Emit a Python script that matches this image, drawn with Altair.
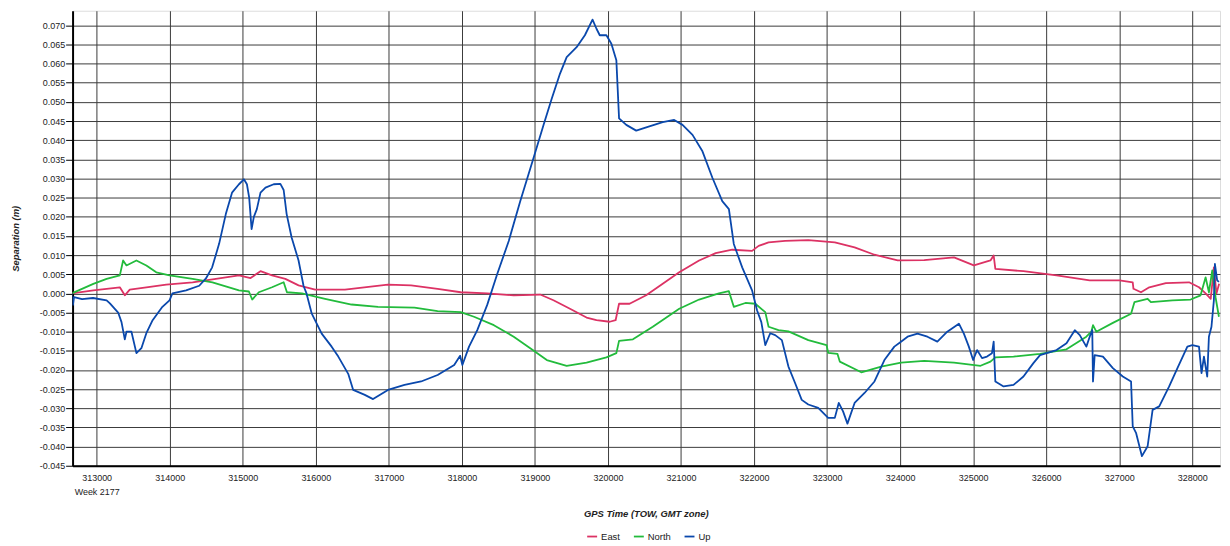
import altair as alt
import pandas as pd

up_t = [312660, 312675, 312690, 312800, 312950, 313136, 313181, 313294, 313340, 313385,
        313408, 313476, 313544, 313612, 313680, 313766, 313900, 313997, 314037, 314224,
        314404, 314496, 314581, 314677, 314768, 314853, 314948, 315016, 315057, 315088,
        315121, 315152, 315193, 315243, 315311, 315424, 315515, 315560, 315601, 315669,
        315764, 315832, 315873, 315945, 316081, 316217, 316308, 316444, 316512, 316671,
        316784, 316988, 317215, 317441, 317668, 317895, 317976, 318007, 318098, 318211,
        318347, 318483, 318642, 318800, 318982, 319118, 319231, 319344, 319435, 319571,
        319684, 319789, 319843, 319888, 319979, 320047, 320115, 320152, 320251, 320387,
        320567, 320750, 320907, 321021, 321158, 321294, 321430, 321565, 321656, 321723,
        321838, 321973, 322041, 322100, 322154, 322222, 322290, 322381, 322471, 322562,
        322653, 322743, 322879, 323015, 323106, 323160, 323219, 323279, 323377, 323513,
        323649, 323785, 323921, 324012, 324102, 324238, 324374, 324510, 324646, 324805,
        324873, 324941, 325000, 325054, 325122, 325190, 325258, 325281, 325304, 325417,
        325553, 325689, 325825, 325916, 326006, 326142, 326278, 326392, 326460, 326550,
        326596, 326631, 326641, 326664, 326777, 326913, 327049, 327162, 327185, 327230,
        327311, 327389, 327457, 327548, 327684, 327797, 327933, 328001, 328092, 328127,
        328160, 328205, 328228, 328263, 328296, 328310, 328341, 328365]
up_v = [0.000, -0.003, -0.001, -0.0015, -0.0012, -0.0018, -0.0026, -0.005, -0.0075, -0.012,
        -0.010, -0.010, -0.0156, -0.0143, -0.0104, -0.007, -0.0035, -0.0018, 0.000, 0.0008,
        0.002, 0.0039, 0.0068, 0.013, 0.0207, 0.0263, 0.0285, 0.0298, 0.0285, 0.025,
        0.0168, 0.020, 0.022, 0.0263, 0.0276, 0.0285, 0.0286, 0.027, 0.0207, 0.0146,
        0.0086, 0.002, 0.000, -0.0053, -0.0105, -0.0139, -0.0165, -0.021, -0.0252, -0.0265,
        -0.0276, -0.0252, -0.0239, -0.023, -0.0213, -0.0187, -0.0163, -0.0187, -0.0139, -0.0096,
        -0.003, 0.005, 0.0137, 0.0241, 0.0354, 0.044, 0.0509, 0.0574, 0.0617, 0.0643,
        0.0674, 0.0715, 0.0691, 0.0674, 0.0674, 0.0652, 0.0609, 0.0457, 0.044, 0.0425,
        0.0436, 0.0447, 0.0453, 0.044, 0.0414, 0.0371, 0.0302, 0.0241, 0.022, 0.0129,
        0.0068, 0.0008, -0.0044, -0.0075, -0.0135, -0.0104, -0.0109, -0.0122, -0.0191, -0.0234,
        -0.0278, -0.029, -0.0299, -0.0325, -0.0325, -0.0286, -0.0308, -0.034, -0.0286, -0.026,
        -0.023, -0.0174, -0.0139, -0.0126, -0.0113, -0.0105, -0.0113, -0.0126, -0.010, -0.0079,
        -0.0105, -0.0139, -0.0174, -0.0148, -0.0169, -0.0165, -0.0156, -0.0126, -0.023, -0.0243,
        -0.0239, -0.0217, -0.0182, -0.0161, -0.0156, -0.0148, -0.013, -0.0096, -0.0109, -0.0139,
        -0.0113, -0.0096, -0.023, -0.0161, -0.0165, -0.0195, -0.0217, -0.023, -0.0347, -0.0364,
        -0.0425, -0.0399, -0.0304, -0.0295, -0.0243, -0.0195, -0.0139, -0.0135, -0.0139, -0.0208,
        -0.0165, -0.0217, -0.0113, -0.0087, -0.0018, 0.0077, 0.0034, 0.003]

east_t = [312660, 312954, 313317, 313385, 313453, 313680, 313952, 314313, 314632, 314948,
          315107, 315243, 315401, 315583, 315764, 315991, 316399, 316988, 317305, 317668,
          317984, 318347, 318710, 319072, 319254, 319480, 319707, 319843, 320024, 320105,
          320152, 320296, 320523, 320750, 320976, 321248, 321475, 321702, 321973, 322063,
          322199, 322426, 322743, 323106, 323377, 323649, 323967, 324330, 324738, 325010,
          325237, 325281, 325304, 325689, 326142, 326596, 327004, 327185, 327195, 327298,
          327412, 327638, 327956, 328092, 328183, 328253, 328296, 328331, 328368]
east_v = [0.000, 0.0008, 0.0016, -0.0005, 0.001, 0.0016, 0.0023, 0.0029, 0.0038, 0.0047,
          0.0040, 0.0058, 0.0047, 0.0038, 0.0021, 0.001, 0.001, 0.0023, 0.0021, 0.0012,
          0.0003, 0.000, -0.0005, -0.0003, -0.0018, -0.004, -0.0063, -0.007, -0.0074, -0.007,
          -0.0027, -0.0027, -0.0005, 0.0025, 0.0055, 0.0086, 0.0105, 0.0114, 0.0111, 0.0124,
          0.0133, 0.0137, 0.0139, 0.0133, 0.012, 0.0101, 0.0086, 0.0087, 0.0094, 0.0073,
          0.0086, 0.0099, 0.0064, 0.0058, 0.0047, 0.0034, 0.0034, 0.0029, 0.0012, 0.0003,
          0.0016, 0.0027, 0.0029, 0.0016, 0.000, -0.0014, 0.0068, 0.000, 0.0025]

north_t = [312660, 312954, 313136, 313317, 313362, 313408, 313544, 313680, 313816, 313997,
           314313, 314585, 314948, 315084, 315129, 315220, 315401, 315560, 315605, 315809,
           316127, 316489, 316852, 317351, 317668, 317984, 318166, 318438, 318710, 318936,
           319163, 319435, 319707, 319979, 320115, 320152, 320342, 320614, 320976, 321248,
           321519, 321655, 321723, 321882, 322018, 322154, 322199, 322335, 322471, 322743,
           322993, 323015, 323143, 323174, 323469, 323741, 324013, 324330, 324738, 325101,
           325237, 325304, 325553, 325916, 326278, 326550, 326618, 326641, 326686, 326913,
           327162, 327208, 327389, 327434, 327729, 327978, 328114, 328183, 328228, 328274,
           328319, 328365]
north_v = [0.000, 0.0025, 0.0038, 0.0047, 0.0086, 0.0073, 0.0086, 0.0073, 0.0055, 0.0047,
           0.0038, 0.0029, 0.0008, 0.0005, -0.0016, 0.0003, 0.0016, 0.0029, 0.0003, 0.000,
           -0.0014, -0.0029, -0.0035, -0.0037, -0.0046, -0.0049, -0.0061, -0.0083, -0.0113, -0.0143,
           -0.0174, -0.0189, -0.0181, -0.0167, -0.0156, -0.0124, -0.012, -0.0087, -0.004, -0.0016,
           0.000, 0.0006, -0.0035, -0.0025, -0.0027, -0.0049, -0.0087, -0.0096, -0.0099, -0.0122,
           -0.0135, -0.0155, -0.0158, -0.0178, -0.0206, -0.0191, -0.0181, -0.0176, -0.0181, -0.0189,
           -0.0178, -0.0167, -0.0165, -0.0158, -0.0146, -0.0113, -0.010, -0.0083, -0.010, -0.0077,
           -0.0053, -0.0023, -0.0014, -0.0023, -0.0018, -0.0016, -0.0005, 0.0042, 0.0003, 0.006,
           -0.001, -0.0061]

series_names = ["East", "North", "Up"]
series_colors = ["#dc3264", "#22bb3c", "#0a48ac"]
x_ticks = list(range(313000, 328001, 1000))
y_ticks = [round(-0.045 + 0.005 * i, 3) for i in range(24)]

rows = []
for name, ts, vs in [("East", east_t, east_v), ("North", north_t, north_v), ("Up", up_t, up_v)]:
    for i, (t, v) in enumerate(zip(ts, vs)):
        rows.append({"series": name, "tow": t, "sep": v, "order": i})
df = pd.DataFrame(rows)

FONT = "Liberation Sans"

lines = alt.Chart(df).mark_line(interpolate="linear", clip=True, strokeJoin="round").encode(
    x=alt.X("tow:Q",
            scale=alt.Scale(domain=[312670, 328380], nice=False, zero=False),
            axis=alt.Axis(values=x_ticks, title="GPS Time (TOW, GMT zone)",
                          labelExpr="datum.value == 313000 ? ['313000', 'Week 2177'] : format(datum.value, 'd')",
                          labelFontSize=9, labelFont=FONT, labelColor="#222",
                          labelLineHeight=14, labelPadding=8, tickSize=0,
                          labelFlush=False, labelOverlap=False,
                          titleFont=FONT, titleFontSize=9.5, titleFontWeight="bold",
                          titleFontStyle="italic", titleColor="#222",
                          titleX=577, titleY=48, titleBaseline="middle", titleAlign="center",
                          grid=True, gridColor="#3a3a3a", gridWidth=1,
                          domainColor="black", domainWidth=2)),
    y=alt.Y("sep:Q",
            scale=alt.Scale(domain=[-0.045, 0.0738], nice=False, zero=False),
            axis=alt.Axis(values=y_ticks, title="Separation (m)",
                          labelExpr="replace(format(datum.value, '.3f'), '\u2212', '-')",
                          labelFontSize=9, labelFont=FONT, labelColor="#222",
                          labelPadding=1, tickSize=7, tickColor="black",
                          titleFont=FONT, titleFontSize=9.5, titleFontWeight="bold",
                          titleFontStyle="italic", titleColor="#222",
                          titleX=-57, titleY=229, titleBaseline="middle", titleAlign="center",
                          grid=True, gridColor="#3a3a3a", gridWidth=1,
                          domainColor="black", domainWidth=2)),
    color=alt.Color("series:N",
                    scale=alt.Scale(domain=series_names, range=series_colors),
                    legend=alt.Legend(orient="none", legendX=517, legendY=523,
                                      direction="horizontal", title=None,
                                      symbolType="stroke", symbolSize=100,
                                      symbolStrokeWidth=2, labelFontSize=9.5,
                                      labelFont=FONT, labelColor="#222",
                                      columnPadding=9, labelOffset=3)),
    strokeWidth=alt.StrokeWidth("series:N",
                                scale=alt.Scale(domain=series_names, range=[1.8, 1.8, 3.0]),
                                legend=None),
    order="order:Q",
)

chart = lines.properties(
    width=1155, height=458,
    autosize=alt.AutoSizeParams(type="none"),
    padding={"left": 65, "top": 1, "right": 2, "bottom": 78},
).configure_view(stroke="black", strokeWidth=2).configure(background="white")

chart.save("out.html", embed_options={"renderer": "svg", "actions": False})
